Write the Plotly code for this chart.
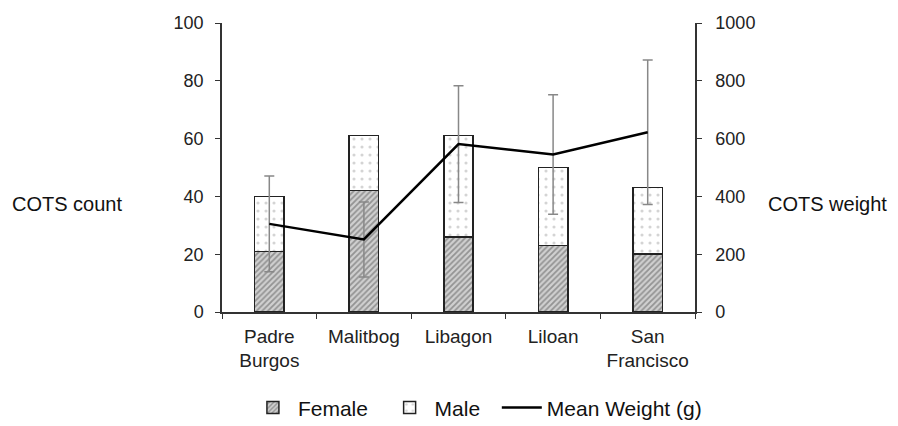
import plotly.graph_objects as go

sites = ["Padre<br>Burgos", "Malitbog", "Libagon", "Liloan", "San<br>Francisco"]
female = [21, 42, 26, 23, 20]
male = [19, 19, 35, 27, 23]
mean_weight = [305, 251, 581, 545, 622]
weight_err = [166, 130, 202, 207, 250]

FONT = "Liberation Sans, Arial, sans-serif"
PAD = "\u00a0" * 2

fig = go.Figure()
fig.add_trace(go.Bar(
    x=sites, y=female, name="Female" + PAD, width=0.31,
    marker=dict(color="#d0d0d0", line=dict(color="#222", width=1.5),
                pattern=dict(shape="/", fgcolor="#555", bgcolor="#d0d0d0", size=4, solidity=0.45)),
))
fig.add_trace(go.Bar(
    x=sites, y=male, name="Male" + PAD, width=0.31,
    marker=dict(color="white", line=dict(color="#222", width=1.5),
                pattern=dict(shape=".", fgcolor="#aaa", bgcolor="white", size=8, solidity=0.12)),
))
fig.add_trace(go.Scatter(
    x=sites, y=mean_weight, name="Mean Weight (g)", yaxis="y2", mode="lines",
    line=dict(color="black", width=2.5),
    error_y=dict(type="data", array=weight_err, visible=True, color="#888", thickness=1.5, width=5),
))

axis_common = dict(showline=True, linecolor="#333", linewidth=1.5, ticks="outside",
                   ticklen=5, tickcolor="#333", showgrid=False, zeroline=False, automargin=False)

fig.update_layout(
    width=890, height=418, barmode="stack",
    margin=dict(l=214, r=203, t=15, b=114, autoexpand=False),
    paper_bgcolor="white", plot_bgcolor="white",
    font=dict(family=FONT, size=19, color="#222"),
    showlegend=True,
    legend=dict(orientation="h", x=0.54, xanchor="center",
                y=-0.332, yanchor="middle",
                font=dict(size=21, color="#111"), traceorder="normal", itemwidth=40),
    xaxis=dict(**axis_common, tickson="boundaries", ticklabelstandoff=6,
               tickfont=dict(size=19, color="#222")),
    yaxis=dict(**axis_common, range=[0, 100], dtick=20, ticklabelstandoff=8,
               tickfont=dict(size=18, color="#222")),
    yaxis2=dict(**axis_common, range=[0, 1000], dtick=200, overlaying="y", side="right",
                ticklabelstandoff=10, tickfont=dict(size=18, color="#222")),
    annotations=[
        dict(text="COTS count", xref="paper", yref="paper", x=-0.448, y=0.374,
             xanchor="left", yanchor="middle", showarrow=False, font=dict(size=20, color="#111")),
        dict(text="COTS weight", xref="paper", yref="paper", x=1.150, y=0.374,
             xanchor="left", yanchor="middle", showarrow=False, font=dict(size=20, color="#111")),
    ],
)

fig.write_html("out.html")
